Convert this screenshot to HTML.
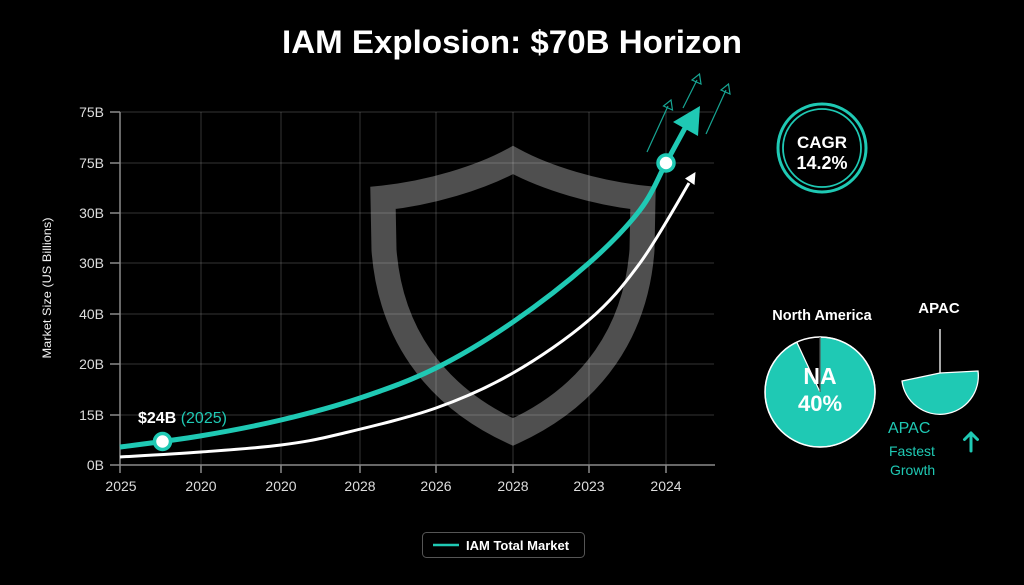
<!DOCTYPE html>
<html><head><meta charset="utf-8"><style>
html,body{margin:0;padding:0;background:#000;}
svg{display:block;}
text{font-family:"Liberation Sans",sans-serif;}
</style></head><body>
<svg width="1024" height="585" viewBox="0 0 1024 585" xmlns="http://www.w3.org/2000/svg">
<rect width="1024" height="585" fill="#000"/>
<text x="512" y="53" font-size="32" font-weight="bold" fill="#fff" text-anchor="middle" textLength="460" lengthAdjust="spacingAndGlyphs">IAM Explosion: $70B Horizon</text>

<!-- shield -->
<path d="M513,160 C480,178 430,193 383,198 L384,250 C390,330 432,395 513,432 C594,395 636,330 642,250 L643,198 C596,193 546,178 513,160 Z" fill="none" stroke="#4f4f4f" stroke-width="25" stroke-linejoin="miter"/>

<!-- grid -->
<g stroke="rgba(255,255,255,0.2)" stroke-width="1">
<line x1="120" y1="112" x2="714" y2="112"/>
<line x1="120" y1="163" x2="714" y2="163"/>
<line x1="120" y1="213" x2="714" y2="213"/>
<line x1="120" y1="263" x2="714" y2="263"/>
<line x1="120" y1="314" x2="714" y2="314"/>
<line x1="120" y1="364" x2="714" y2="364"/>
<line x1="120" y1="415" x2="714" y2="415"/>
<line x1="201" y1="112" x2="201" y2="465"/>
<line x1="281" y1="112" x2="281" y2="465"/>
<line x1="360" y1="112" x2="360" y2="465"/>
<line x1="436" y1="112" x2="436" y2="465"/>
<line x1="513" y1="112" x2="513" y2="465"/>
<line x1="589" y1="112" x2="589" y2="465"/>
<line x1="666" y1="112" x2="666" y2="465"/>
</g>
<!-- axes -->
<g stroke="#8a8a8a" stroke-width="1.5">
<line x1="120" y1="112" x2="120" y2="465"/>
<line x1="120" y1="465" x2="715" y2="465"/>
<line x1="110" y1="112" x2="120" y2="112"/>
<line x1="110" y1="163" x2="120" y2="163"/>
<line x1="110" y1="213" x2="120" y2="213"/>
<line x1="110" y1="263" x2="120" y2="263"/>
<line x1="110" y1="314" x2="120" y2="314"/>
<line x1="110" y1="364" x2="120" y2="364"/>
<line x1="110" y1="415" x2="120" y2="415"/>
<line x1="110" y1="465" x2="120" y2="465"/>
<line x1="120" y1="465" x2="120" y2="473"/>
<line x1="201" y1="465" x2="201" y2="473"/>
<line x1="281" y1="465" x2="281" y2="473"/>
<line x1="360" y1="465" x2="360" y2="473"/>
<line x1="436" y1="465" x2="436" y2="473"/>
<line x1="513" y1="465" x2="513" y2="473"/>
<line x1="589" y1="465" x2="589" y2="473"/>
<line x1="666" y1="465" x2="666" y2="473"/>
</g>
<g font-size="14" fill="#dddddd" text-anchor="end">
<text x="104" y="117">75B</text>
<text x="104" y="168">75B</text>
<text x="104" y="218">30B</text>
<text x="104" y="268">30B</text>
<text x="104" y="319">40B</text>
<text x="104" y="369">20B</text>
<text x="104" y="420">15B</text>
<text x="104" y="470">0B</text>
</g>
<g font-size="14" fill="#dddddd" text-anchor="middle">
<text x="121" y="491">2025</text>
<text x="201" y="491">2020</text>
<text x="281" y="491">2020</text>
<text x="360" y="491">2028</text>
<text x="436" y="491">2026</text>
<text x="513" y="491">2028</text>
<text x="589" y="491">2023</text>
<text x="666" y="491">2024</text>
</g>
<text transform="translate(51,288) rotate(-90)" font-size="12" fill="#f0f0f0" text-anchor="middle" textLength="141" lengthAdjust="spacingAndGlyphs">Market Size (US Billions)</text>

<!-- white curve -->
<path d="M120,457 C133.5,456.2 174.2,454 201,452 C227.8,450 257.8,448 281,445 C304.2,442 314.2,440.2 340,434 C365.8,427.8 407.2,418.2 436,408 C464.8,397.8 487.5,387.7 513,373 C538.5,358.3 567.8,338.3 589,320 C610.2,301.7 623,286.3 640,263 C657,239.7 682.5,193.8 689,183" fill="none" stroke="#fff" stroke-width="3"/>
<polygon points="695.5,172 694.5,185 685,178.5" fill="#fff"/>

<!-- teal curve -->
<path d="M120,447 C133.3,445.2 173.2,440.5 200,436 C226.8,431.5 254.3,426.3 281,420 C307.7,413.7 334.2,406.7 360,398 C385.8,389.3 410.5,380.7 436,368 C461.5,355.3 487.5,339.5 513,322 C538.5,304.5 567.8,281.7 589,263 C610.2,244.3 627.2,226.7 640,210 C652.8,193.3 658.5,176.7 666,163 C673.5,149.3 681.8,133.8 685,128" fill="none" stroke="#1fc9b4" stroke-width="5"/>
<polygon points="673,122 700,106 698,136" fill="#1fc9b4"/>

<!-- thin arrows -->
<g stroke="#17a593" stroke-width="1.2" fill="none">
<line x1="647" y1="152" x2="668" y2="106"/>
<polygon points="671,100 672.5,110 663.5,106"/>
<line x1="683" y1="108" x2="697" y2="80"/>
<polygon points="699.5,74 701,84 692,80"/>
<line x1="706" y1="134" x2="726" y2="90"/>
<polygon points="728.5,84 730,94 721,90"/>
</g>

<!-- markers -->
<circle cx="162.5" cy="441.5" r="8" fill="#fff" stroke="#1fc9b4" stroke-width="3.5"/>
<circle cx="666" cy="163" r="8" fill="#fff" stroke="#1fc9b4" stroke-width="3.5"/>

<text x="138" y="423" font-size="16" font-weight="bold" fill="#fff">$24B <tspan font-weight="normal" fill="#1fc9b4">(2025)</tspan></text>

<!-- CAGR -->
<circle cx="822" cy="148" r="44" fill="none" stroke="#1fc9b4" stroke-width="3"/>
<circle cx="822" cy="148" r="39" fill="none" stroke="#1fc9b4" stroke-width="1.8"/>
<text x="822" y="148" font-size="17" font-weight="bold" fill="#fff" text-anchor="middle">CAGR</text>
<text x="822" y="169" font-size="18" font-weight="bold" fill="#fff" text-anchor="middle">14.2%</text>

<!-- North America pie -->
<text x="822" y="320" font-size="14.5" font-weight="bold" fill="#fff" text-anchor="middle">North America</text>
<path d="M820,392 L820,337 A55,55 0 1 1 796.8,342.2 Z" fill="#1fc9b4" stroke="#fff" stroke-width="1.2"/>
<circle cx="820" cy="392" r="55" fill="none" stroke="#fff" stroke-width="1.5"/>
<line x1="820" y1="337" x2="820" y2="392" stroke="#333" stroke-width="1"/>
<text x="820" y="384" font-size="23" font-weight="bold" fill="#fff" text-anchor="middle">NA</text>
<text x="820" y="411" font-size="22" font-weight="bold" fill="#fff" text-anchor="middle">40%</text>

<!-- APAC -->
<text x="939" y="313" font-size="15" font-weight="bold" fill="#fff" text-anchor="middle">APAC</text>
<line x1="940" y1="329" x2="940" y2="373" stroke="#fff" stroke-width="1.3"/>
<path d="M902,381 L940,373 L978,371 A38.3,38.3 0 0 1 902,381 Z" fill="#1fc9b4" stroke="#fff" stroke-width="1.3"/>
<text x="888" y="433" font-size="16" fill="#1fc9b4">APAC</text>
<text x="889" y="456" font-size="14" fill="#1fc9b4">Fastest</text>
<text x="890" y="475" font-size="14" fill="#1fc9b4">Growth</text>
<g stroke="#1fc9b4" stroke-width="3" fill="none" stroke-linecap="round" stroke-linejoin="round">
<line x1="971" y1="433" x2="971" y2="451"/>
<polyline points="964.5,439.5 971,433 977.5,439.5"/>
</g>

<!-- legend -->
<rect x="422.5" y="532.5" width="162" height="25" rx="4" fill="#000" stroke="#555" stroke-width="1"/>
<line x1="433" y1="545" x2="459" y2="545" stroke="#1fc9b4" stroke-width="2.5"/>
<text x="466" y="550" font-size="13" font-weight="bold" fill="#fff">IAM Total Market</text>
</svg>
</body></html>
